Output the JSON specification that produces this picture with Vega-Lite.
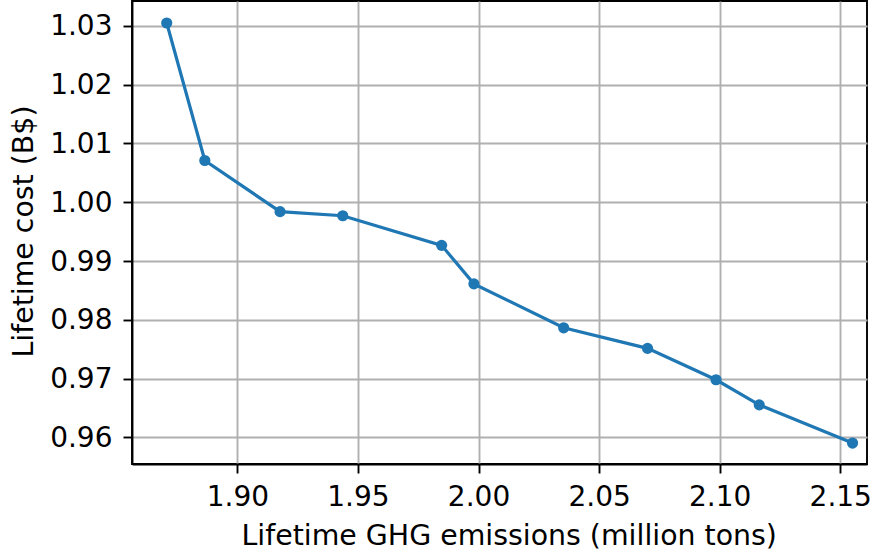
{
  "$schema": "https://vega.github.io/schema/vega-lite/v6.json",
  "width": 735,
  "height": 463,
  "autosize": {"type": "none"},
  "padding": {"left": 132, "top": 1, "right": 14, "bottom": 88},
  "background": "white",
  "config": {
    "font": "DejaVu Sans",
    "view": {"stroke": "black", "strokeWidth": 1.9},
    "axis": {
      "labelFont": "DejaVu Sans",
      "titleFont": "DejaVu Sans",
      "labelFontSize": 28,
      "titleFontSize": 28.4,
      "titleFontWeight": "normal",
      "labelColor": "black",
      "titleColor": "black",
      "domainColor": "black",
      "domainWidth": 1.9,
      "tickColor": "black",
      "tickWidth": 1.9,
      "tickSize": 9,
      "gridColor": "#b0b0b0",
      "gridWidth": 1.9,
      "gridOpacity": 1
    }
  },
  "data": {
    "values": [
      {"emissions": 1.8707, "cost": 1.0305},
      {"emissions": 1.8865, "cost": 1.0071},
      {"emissions": 1.9177, "cost": 0.9984},
      {"emissions": 1.9437, "cost": 0.9977},
      {"emissions": 1.9847, "cost": 0.99267},
      {"emissions": 1.9981, "cost": 0.98611},
      {"emissions": 2.0353, "cost": 0.97864},
      {"emissions": 2.0701, "cost": 0.97514},
      {"emissions": 2.0985, "cost": 0.9698},
      {"emissions": 2.1164, "cost": 0.96553},
      {"emissions": 2.1551, "cost": 0.95903}
    ]
  },
  "layer": [
    {
      "mark": {"type": "line", "color": "#1f77b4", "strokeWidth": 3.2, "clip": true},
      "encoding": {
        "x": {
          "field": "emissions", "type": "quantitative",
          "scale": {"domain": [1.8563, 2.1611], "nice": false, "zero": false},
          "axis": {
            "title": "Lifetime GHG emissions (million tons)",
            "values": [1.9, 1.95, 2.0, 2.05, 2.1, 2.15],
            "format": ".2f",
            "labelPadding": 10,
            "titleAlign": "left",
            "titleAnchor": null,
            "titleBaseline": "alphabetic",
            "titleX": 109,
            "titleY": 80
          }
        },
        "y": {
          "field": "cost", "type": "quantitative",
          "scale": {"domain": [0.95547, 1.03424], "nice": false, "zero": false},
          "axis": {
            "title": "Lifetime cost (B$)",
            "values": [0.96, 0.97, 0.98, 0.99, 1.0, 1.01, 1.02, 1.03],
            "format": ".2f",
            "labelPadding": 11,
            "labelOffset": 1,
            "titleAngle": -90,
            "titleAlign": "left",
            "titleAnchor": null,
            "titleBaseline": "alphabetic",
            "titleX": -99.5,
            "titleY": 356
          }
        }
      }
    },
    {
      "mark": {"type": "circle", "color": "#1f77b4", "size": 125, "opacity": 1},
      "encoding": {
        "x": {"field": "emissions", "type": "quantitative"},
        "y": {"field": "cost", "type": "quantitative"}
      }
    }
  ]
}
